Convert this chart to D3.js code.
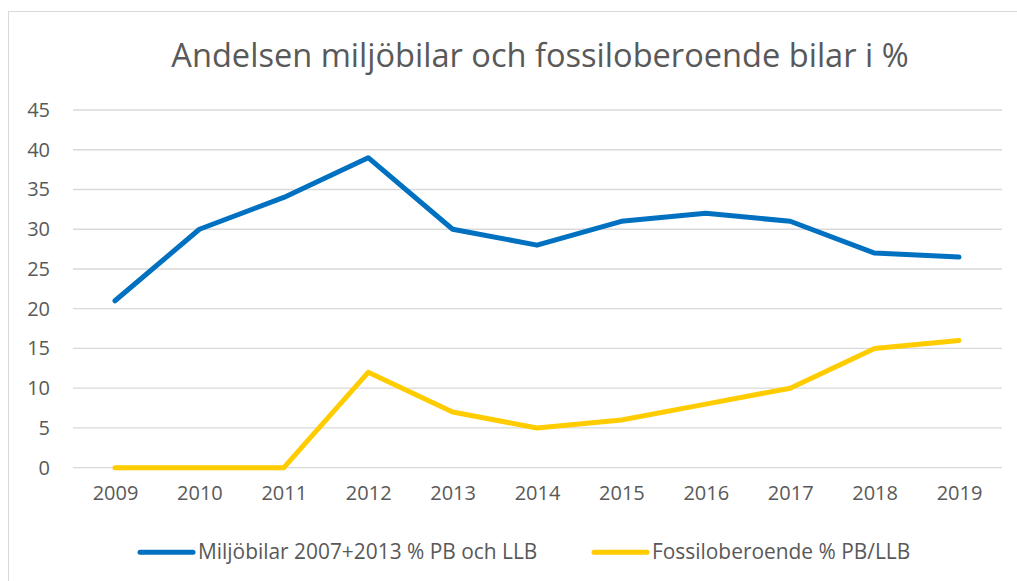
<!DOCTYPE html>
<html><head><meta charset="utf-8">
<script src="https://cdn.jsdelivr.net/npm/d3@7"></script>
<style>body{margin:0;background:#fff}svg{display:block}</style>
</head><body>
<script>
const years = [2009,2010,2011,2012,2013,2014,2015,2016,2017,2018,2019];
const miljo = [21,30,34,39,30,28,31,32,31,27,26.5];
const fossil = [0,0,0,12,7,5,6,8,10,15,16];
const yTicks = [0,5,10,15,20,25,30,35,40,45];
const seriesNames = ["Miljöbilar 2007+2013 % PB och LLB","Fossiloberoende % PB/LLB"];
const colors = ["#0070C0","#FFCC00"];

const W=1017,H=581;
const font = "'Open Sans', sans-serif";
const svg = d3.select("body").append("svg").attr("width",W).attr("height",H);
svg.append("rect").attr("x",8.5).attr("y",11.5).attr("width",W+10).attr("height",H+10)
  .attr("fill","#fff").attr("stroke","#d9d9d9");

svg.append("text").attr("x",540).attr("y",66.5).attr("text-anchor","middle")
  .attr("font-family",font).attr("font-size",32.6).attr("fill","#595959")
  .text("Andelsen miljöbilar och fossiloberoende bilar i %");

const x = d3.scalePoint().domain(years).range([115,959]);
const y = d3.scaleLinear().domain([0,45]).range([467.7,110]);

const grid = svg.append("g");
grid.selectAll("line").data(yTicks).join("line")
  .attr("x1",73).attr("x2",1002).attr("y1",d=>y(d)).attr("y2",d=>y(d))
  .attr("stroke","#d9d9d9").attr("stroke-width",1.3);

const yAxis = svg.append("g").attr("transform","translate(58,0)")
  .call(d3.axisLeft(y).tickValues(yTicks).tickSize(0).tickPadding(8));
yAxis.select(".domain").remove();
yAxis.selectAll("text").attr("font-family",font).attr("font-size",20).attr("fill","#595959");

const xAxis = svg.append("g").attr("transform","translate(0,486)")
  .call(d3.axisBottom(x).tickSize(0).tickPadding(0).tickFormat(d3.format("d")));
xAxis.select(".domain").remove();
xAxis.selectAll("text").attr("font-family",font).attr("font-size",20).attr("fill","#595959");

const line = d3.line().x((d,i)=>x(years[i])).y(d=>y(d));
[miljo,fossil].forEach((s,i)=>{
  svg.append("path").datum(s).attr("d",line).attr("fill","none")
    .attr("stroke",colors[i]).attr("stroke-width",5).attr("stroke-linecap","round").attr("stroke-linejoin","round");
});

const legX=[140,594];
seriesNames.forEach((n,i)=>{
  const g=svg.append("g").attr("transform",`translate(${legX[i]},552.3)`);
  g.append("line").attr("x1",0).attr("x2",53).attr("stroke",colors[i]).attr("stroke-width",5).attr("stroke-linecap","round");
  g.append("text").attr("x",58).attr("y",7).attr("font-family",font).attr("font-size",20.9).attr("fill","#595959").text(n);
});
</script>
</body></html>
